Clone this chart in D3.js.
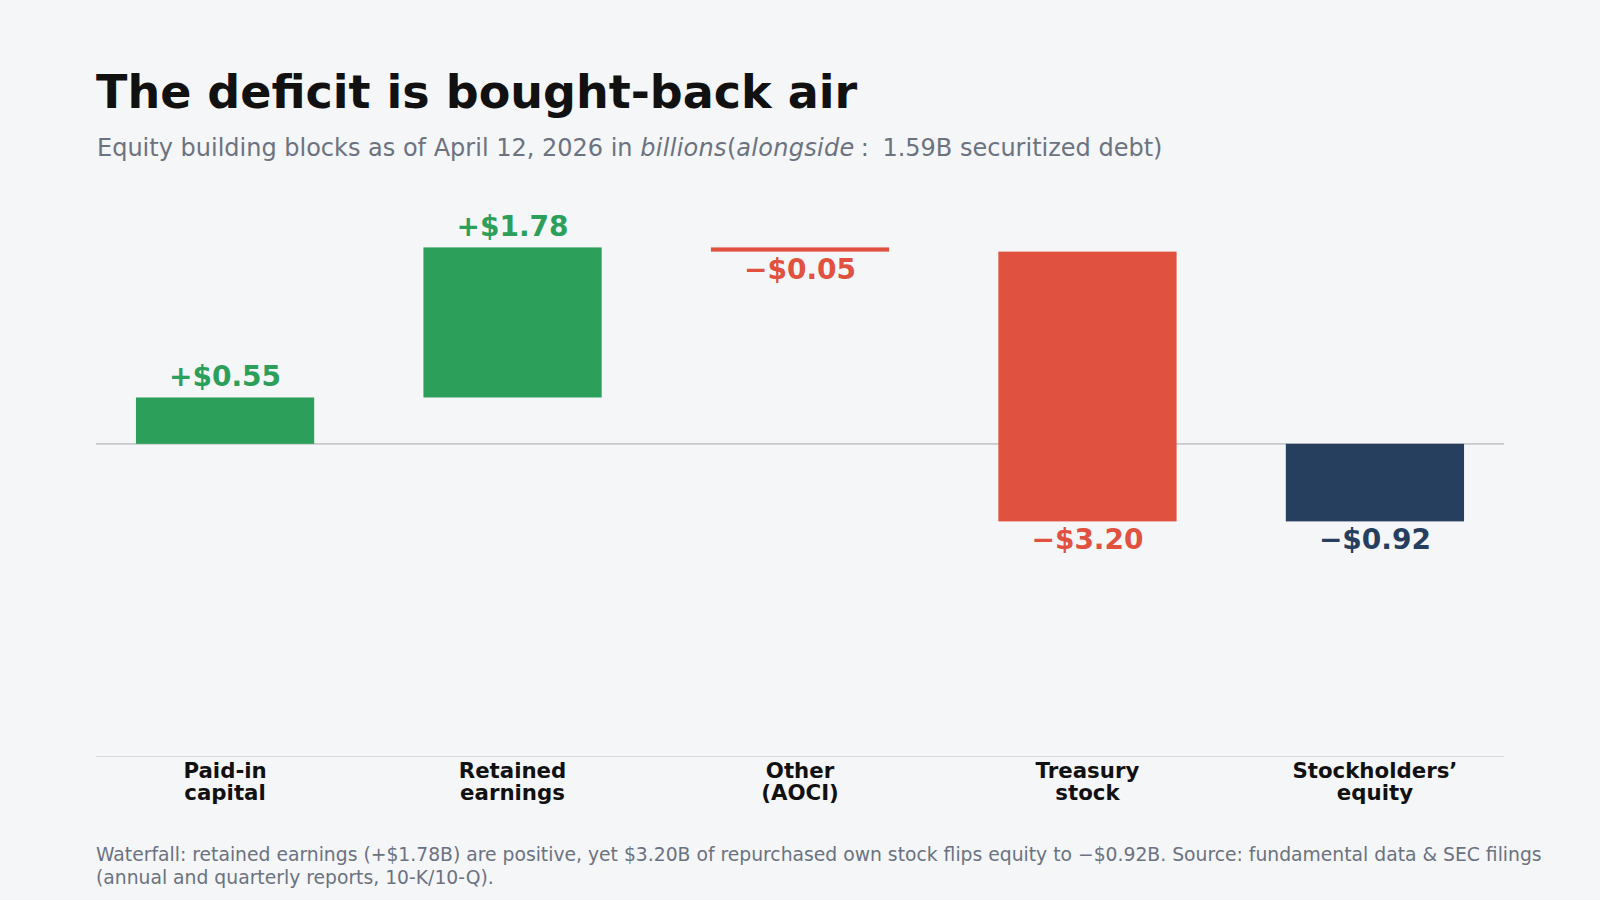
<!DOCTYPE html>
<html><head><meta charset="utf-8">
<script src="https://cdn.jsdelivr.net/npm/d3@7"></script>
<style>
html,body{margin:0;padding:0;background:#f5f6f8;}
svg{display:block;font-family:"DejaVu Sans",sans-serif;}
</style></head>
<body><svg id="c" width="1600" height="900"></svg>
<script>
const categories = [["Paid-in","capital"],["Retained","earnings"],["Other","(AOCI)"],["Treasury","stock"],["Stockholders’","equity"]];
const values = [0.55, 1.78, -0.05, -3.20, -0.92];
const kinds = ["delta","delta","delta","delta","total"];
const valueLabels = ["+$0.55","+$1.78","−$0.05","−$3.20","−$0.92"];
const yDomain = [-3.703, 2.85];

(function(){
const colors = {pos:"#2ca05a", neg:"#e1513f", total:"#273f5f"};
const svg = d3.select("#c");
svg.append("rect").attr("width",1600).attr("height",900).attr("fill","#f5f6f8");

let run = 0;
const bars = values.map((v,i)=>{
  let y0,y1,color;
  if(kinds[i]==="total"){ y0=0; y1=v; color=colors.total; }
  else { y0=run; y1=run+v; run=y1; color = v>=0?colors.pos:colors.neg; }
  return {i, v, y0, y1, color, label:valueLabels[i]};
});

const left=96, right=1504, bottom=756;
const pxPerUnit = 84.3;
const plotTop = bottom - pxPerUnit*(yDomain[1]-yDomain[0]);
const x = d3.scaleLinear().domain([-0.449, categories.length-1+0.449]).range([left,right]);
const y = d3.scaleLinear().domain(yDomain).range([bottom, plotTop]);
const bw = 0.62;

svg.append("line").attr("x1",left).attr("x2",right).attr("y1",bottom+0.5).attr("y2",bottom+0.5)
  .attr("stroke","#d9dade").attr("stroke-width",1);
svg.append("line").attr("x1",left).attr("x2",right).attr("y1",y(0)).attr("y2",y(0))
  .attr("stroke","#c6c8ce").attr("stroke-width",1.6);

svg.selectAll("rect.bar").data(bars).join("rect").attr("class","bar")
  .attr("x",d=>x(d.i-bw/2)).attr("width",d=>x(d.i+bw/2)-x(d.i-bw/2))
  .attr("y",d=>y(Math.max(d.y0,d.y1))).attr("height",d=>Math.abs(y(d.y0)-y(d.y1)))
  .attr("fill",d=>d.color);

svg.selectAll("text.val").data(bars).join("text").attr("class","val")
  .attr("x",d=>x(d.i))
  .attr("y",d=> d.v>=0 ? y(Math.max(d.y0,d.y1))-11 : y(Math.min(d.y0,d.y1))+27.5)
  .attr("text-anchor","middle").attr("font-weight","bold").attr("font-size",28)
  .attr("fill",d=>d.color).text(d=>d.label);

const cat = svg.selectAll("text.cat").data(categories).join("text").attr("class","cat")
  .attr("text-anchor","middle").attr("font-weight","bold").attr("font-size",21.3).attr("fill","#111");
cat.each(function(d,i){
  const t=d3.select(this);
  d.forEach((line,j)=>t.append("tspan").attr("x",x(i)).attr("y",777.5+j*22.5).text(line));
});

svg.append("text").attr("x",96).attr("y",107.5).attr("font-size",46).attr("font-weight","bold")
  .attr("fill","#111").text("The deficit is bought-back air");
const sub = svg.append("text").attr("x",97).attr("y",156).attr("font-size",24).attr("fill","#6b7280");
sub.append("tspan").text("Equity building blocks as of April 12, 2026 in ");
sub.append("tspan").attr("font-style","italic").attr("letter-spacing",0.3).text("billions");
sub.append("tspan").text("(");
sub.append("tspan").attr("font-style","italic").attr("letter-spacing",0.3).text("alongside");
sub.append("tspan").text("\u2005:\u2005 1.59B securitized debt)");

const fn = svg.append("text").attr("font-size",18.75).attr("fill","#6b7280");
fn.append("tspan").attr("x",96).attr("y",861).text("Waterfall: retained earnings (+$1.78B) are positive, yet $3.20B of repurchased own stock flips equity to −$0.92B. Source: fundamental data & SEC filings");
fn.append("tspan").attr("x",96).attr("y",883.5).text("(annual and quarterly reports, 10-K/10-Q).");
})();
</script></body></html>
